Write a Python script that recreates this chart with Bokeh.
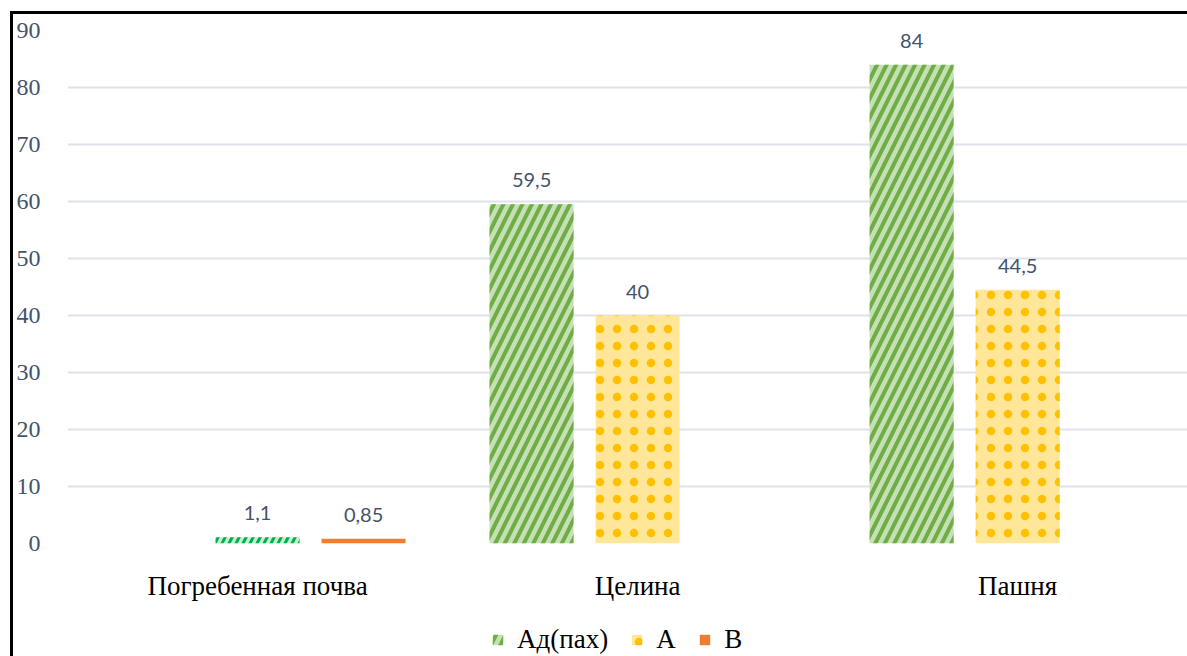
import numpy as np
from bokeh.plotting import figure
from bokeh.layouts import column
from bokeh.models import ColumnDataSource, FixedTicker, Legend, LegendItem
from bokeh.core.properties import value
from bokeh.embed import file_html
from bokeh.resources import INLINE

# ---- data ----
categories = ["Погребенная почва", "Целина", "Пашня"]
series_names = ["Ад(пах)", "А", "В"]
ad_pax = [np.nan, 59.5, 84.0]
a_hor = [1.1, 40.0, 44.5]
b_hor = [0.85, np.nan, np.nan]
y_ticks = [0, 10, 20, 30, 40, 50, 60, 70, 80, 90]

def fmt(v):
    s = ("%g" % v)
    return s.replace(".", ",")

idx = np.arange(len(categories), dtype=float)
slot = 0.279
bw = 0.221

p = figure(frame_width=1125, frame_height=513, output_backend="svg", toolbar_location=None,
           x_range=(-0.5, 2.46), y_range=(0, 90),
           min_border_left=49, min_border_right=0, min_border_top=16, min_border_bottom=70)
p.outline_line_color = None
p.background_fill_color = "white"
p.border_fill_color = "white"

# grid
p.xgrid.grid_line_color = None
p.ygrid.grid_line_color = "#DEE2EA"
p.ygrid.grid_line_width = 2
p.yaxis.ticker = FixedTicker(ticks=y_ticks)
p.yaxis.axis_line_color = None
p.yaxis.major_tick_line_color = None
p.yaxis.minor_tick_line_color = None
p.yaxis.major_label_text_font = "Liberation Serif"
p.yaxis.major_label_text_font_size = "24px"
p.yaxis.major_label_text_color = "#44546A"
p.yaxis.major_label_standoff = 21

p.xaxis.ticker = FixedTicker(ticks=list(idx))
p.xaxis.major_label_overrides = {float(i): c for i, c in enumerate(categories)}
p.xaxis.major_label_overrides.update({int(i): c for i, c in enumerate(categories)})
p.xaxis.axis_line_color = None
p.xaxis.major_tick_line_color = None
p.xaxis.minor_tick_line_color = None
p.xaxis.major_label_text_font = "Liberation Serif"
p.xaxis.major_label_text_font_size = "27px"
p.xaxis.major_label_text_color = "black"
p.xaxis.major_label_standoff = 21

# styles
AD_STYLE = dict(fill_color="#C5E0B4", line_color=None,
                hatch_pattern="/", hatch_color="#70AD47", hatch_scale=19, hatch_weight=4)
B_STYLE = dict(fill_color="#ED7D31", line_color=None)
a_fill = ["#C6EFCE", "#FFE699", "#FFE699"]
a_hcol = ["#00B050", "#FFC000", "#FFC000"]
a_pat = ["/", "dot", "dot"]
a_scale = [14, 17, 17]
a_weight = [3, 9, 9]

src_ad = ColumnDataSource(dict(x=idx - slot, top=ad_pax))
src_a = ColumnDataSource(dict(x=idx, top=a_hor, fill=a_fill, hcol=a_hcol, pat=a_pat,
                              hs=a_scale, hw=a_weight))
src_b = ColumnDataSource(dict(x=idx + slot, top=b_hor))
A_STYLE = dict(fill_color="fill", line_color=None, hatch_pattern="pat", hatch_color="hcol",
               hatch_scale="hs", hatch_weight="hw")

p.vbar(x="x", top="top", width=bw, source=src_ad, **AD_STYLE)
p.vbar(x="x", top="top", width=bw, source=src_a, **A_STYLE)
p.vbar(x="x", top="top", width=bw, source=src_b, **B_STYLE)

# data labels
lx, ly, lt = [], [], []
for off, vals in ((-slot, ad_pax), (0.0, a_hor), (slot, b_hor)):
    for i, v in enumerate(vals):
        if not np.isnan(v):
            lx.append(i + off); ly.append(v); lt.append(fmt(v))
src_l = ColumnDataSource(dict(x=lx, y=ly, t=lt))
p.text(x="x", y="y", text="t", source=src_l, text_align="center", text_baseline="bottom",
       y_offset=-17, text_font=value("Lato"), text_font_size="20px", text_color="#44546A")

# ---- legend strip (separate small figure so nothing is clipped) ----
pl = figure(width=1174, height=43, output_backend="svg", toolbar_location=None,
            x_range=(100, 101), y_range=(100, 101),
            min_border=0, x_axis_location=None, y_axis_location=None)
pl.outline_line_color = None
pl.grid.visible = False
pl.border_fill_color = "white"
lr_ad = pl.vbar(x="x", top="top", width=bw, source=src_ad, **AD_STYLE)
lr_a = pl.vbar(x="x", top="top", width=bw, source=src_a, **A_STYLE)
lr_b = pl.vbar(x="x", top="top", width=bw, source=src_b, **B_STYLE)

legend = Legend(items=[
    LegendItem(label=series_names[0], renderers=[lr_ad], index=1),
    LegendItem(label=series_names[1], renderers=[lr_a], index=1),
    LegendItem(label=series_names[2], renderers=[lr_b], index=0),
], orientation="horizontal", location=(424, 1))
legend.label_text_font = "Liberation Serif"
legend.label_text_font_size = "27px"
legend.label_text_color = "black"
legend.glyph_width = 13
legend.glyph_height = 13
legend.label_standoff = 13
legend.spacing = 22
legend.border_line_color = None
legend.background_fill_alpha = 0
legend.margin = 0
legend.padding = 0
pl.add_layout(legend)

layout = column(p, pl, spacing=0)
layout.styles = {"margin-left": "10px", "margin-top": "11px",
                 "border-left": "3px solid black", "border-top": "3px solid black"}

open("out.html", "w").write(file_html(layout, INLINE))
